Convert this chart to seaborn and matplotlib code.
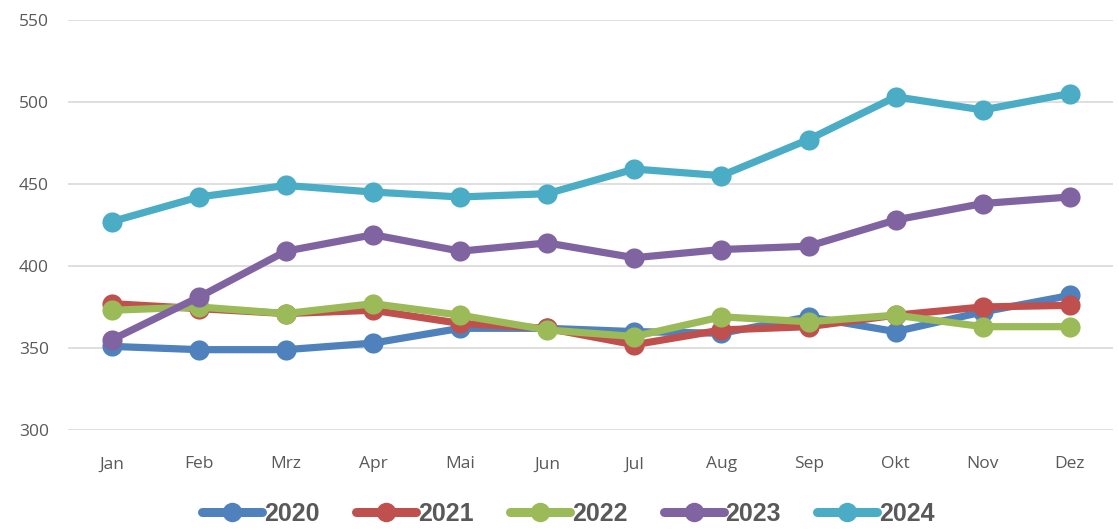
import matplotlib
matplotlib.use("Agg")
import matplotlib.pyplot as plt
import seaborn as sns
import pandas as pd

months = ["Jan", "Feb", "Mrz", "Apr", "Mai", "Jun", "Jul", "Aug", "Sep", "Okt", "Nov", "Dez"]
years = ["2020", "2021", "2022", "2023", "2024"]
v2020 = [351, 349, 349, 353, 362, 362, 360, 359, 369, 360, 372, 382]
v2021 = [377, 374, 371, 373, 365, 362, 352, 361, 363, 370, 375, 376]
v2022 = [373, 375, 371, 377, 370, 361, 357, 369, 366, 370, 363, 363]
v2023 = [355, 381, 409, 419, 409, 414, 405, 410, 412, 428, 438, 442]
v2024 = [427, 442, 449, 445, 442, 444, 459, 455, 477, 503, 495, 505]
yticks = [300, 350, 400, 450, 500, 550]

colors = ["#4F81BD", "#C0504D", "#9BBB59", "#8064A2", "#4BACC6"]

series = [v2020, v2021, v2022, v2023, v2024]
rows = []
for y, vals in zip(years, series):
    for m, v in zip(months, vals):
        rows.append({"Monat": m, "Wert": v, "Jahr": y})
df = pd.DataFrame(rows)

sns.set_theme(style="white")
plt.rcParams["font.family"] = ["Open Sans", "DejaVu Sans"]

fig = plt.figure(figsize=(11.19, 5.31), dpi=100)
ax = fig.add_axes([0.061, 0.190, 0.934, 0.773])

sns.lineplot(data=df, x="Monat", y="Wert", hue="Jahr", hue_order=years,
             palette=colors, marker="o", markersize=14.5, linewidth=5.2,
             markeredgewidth=0, sort=False, ax=ax, legend=False)

ax.set_ylim(300, 550)
ax.set_xlim(-0.5, 11.5)
ax.set_yticks(yticks)
ax.set_xticks(range(len(months)))
ax.set_xticklabels(months)
ax.grid(axis="y", color="#D9D9D9", linewidth=1.2)
ax.set_axisbelow(True)
for s in ax.spines.values():
    s.set_visible(False)
ax.tick_params(axis="both", length=0, labelsize=12.5, labelcolor="#595959")
ax.tick_params(axis="x", pad=19)
ax.tick_params(axis="y", pad=14)
ax.set_xlabel("")
ax.set_ylabel("")

handles = [plt.Line2D([0], [0], color=c, linewidth=6.5, marker="o", markersize=14,
                      markeredgewidth=0) for c in colors]
fig.legend(handles, years, loc="center", bbox_to_anchor=(0.508, 0.032), ncol=5,
           frameon=False, handlelength=2.4, handletextpad=0.08, columnspacing=1.45,
           prop={"family": ["Liberation Sans", "DejaVu Sans"], "weight": "bold", "size": 18},
           labelcolor="#595959")

fig.savefig("out.png", dpi=100)
